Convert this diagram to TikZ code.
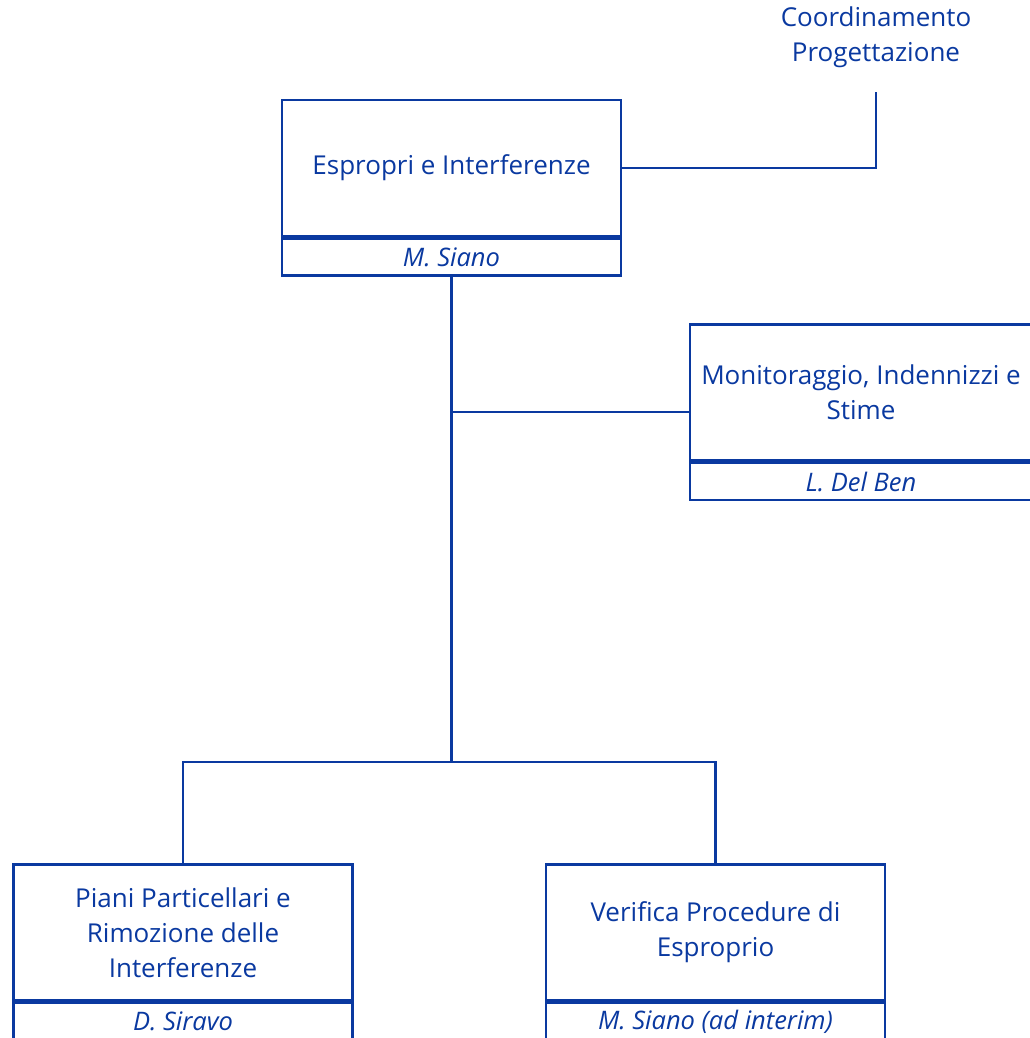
\documentclass[tikz,border=0pt]{standalone}
\usepackage{fontspec}
\setmainfont{Open Sans}
\usepackage{tikz}
\usetikzlibrary{positioning}
\definecolor{OrgBlue}{HTML}{0A39A0}

\tikzset{
  unitbox/.style={draw=OrgBlue,line width=2.6pt,text=OrgBlue,inner sep=0pt,
    minimum width=339pt,minimum height=136pt,align=center,
    font=\fontsize{26}{35}\selectfont},
  namebox/.style={draw=OrgBlue,line width=2.6pt,text=OrgBlue,inner sep=0pt,
    minimum width=339pt,minimum height=37pt,
    font=\fontsize{25.5}{30}\selectfont\itshape},
  link/.style={draw=OrgBlue,line width=2.6pt},
}

\begin{document}
\begin{tikzpicture}[x=1pt,y=-1pt]
  \useasboundingbox (0,0) rectangle (1029,1038);

  % head unit
  \node[unitbox] (espropri) at (451.5,168) {Espropri e Interferenze};
  \node[namebox,below=0pt of espropri] (espropri-name) {M. Siano};

  % staff unit
  \node[unitbox,minimum width=342pt] (monitor) at (861,392.5) {Monitoraggio, Indennizzi e\\Stime};
  \node[namebox,minimum width=342pt,below=0pt of monitor] (monitor-name) {L. Del Ben};

  % operating units
  \node[unitbox] (piani) at (183,932.5) {Piani Particellari e\\Rimozione delle\\Interferenze};
  \node[namebox,below=0pt of piani] (piani-name) {D. Siravo};
  \node[unitbox] (verifica) at (715.5,932.5) {Verifica Procedure di\\Esproprio};
  \node[namebox,below=0pt of verifica] (verifica-name) {M. Siano (ad interim)};

  % coordination (no box)
  \node[text=OrgBlue,align=center,font=\fontsize{26}{35}\selectfont] (coord) at (876,37)
    {Coordinamento\\Progettazione};
  \coordinate (coordend) at (876,92);
  \coordinate (junction) at (451.5,762);

  \draw[draw=OrgBlue,line width=2pt] (espropri.east) -| (coordend);
  \draw[link] (espropri-name.south) -- (junction);
  \draw[link] ([yshift=-19.5pt]monitor.west) -- ([yshift=-19.5pt]monitor.west -| junction);
  \draw[link] (piani.north) |- (junction) -| (verifica.north);
\end{tikzpicture}
\end{document}
